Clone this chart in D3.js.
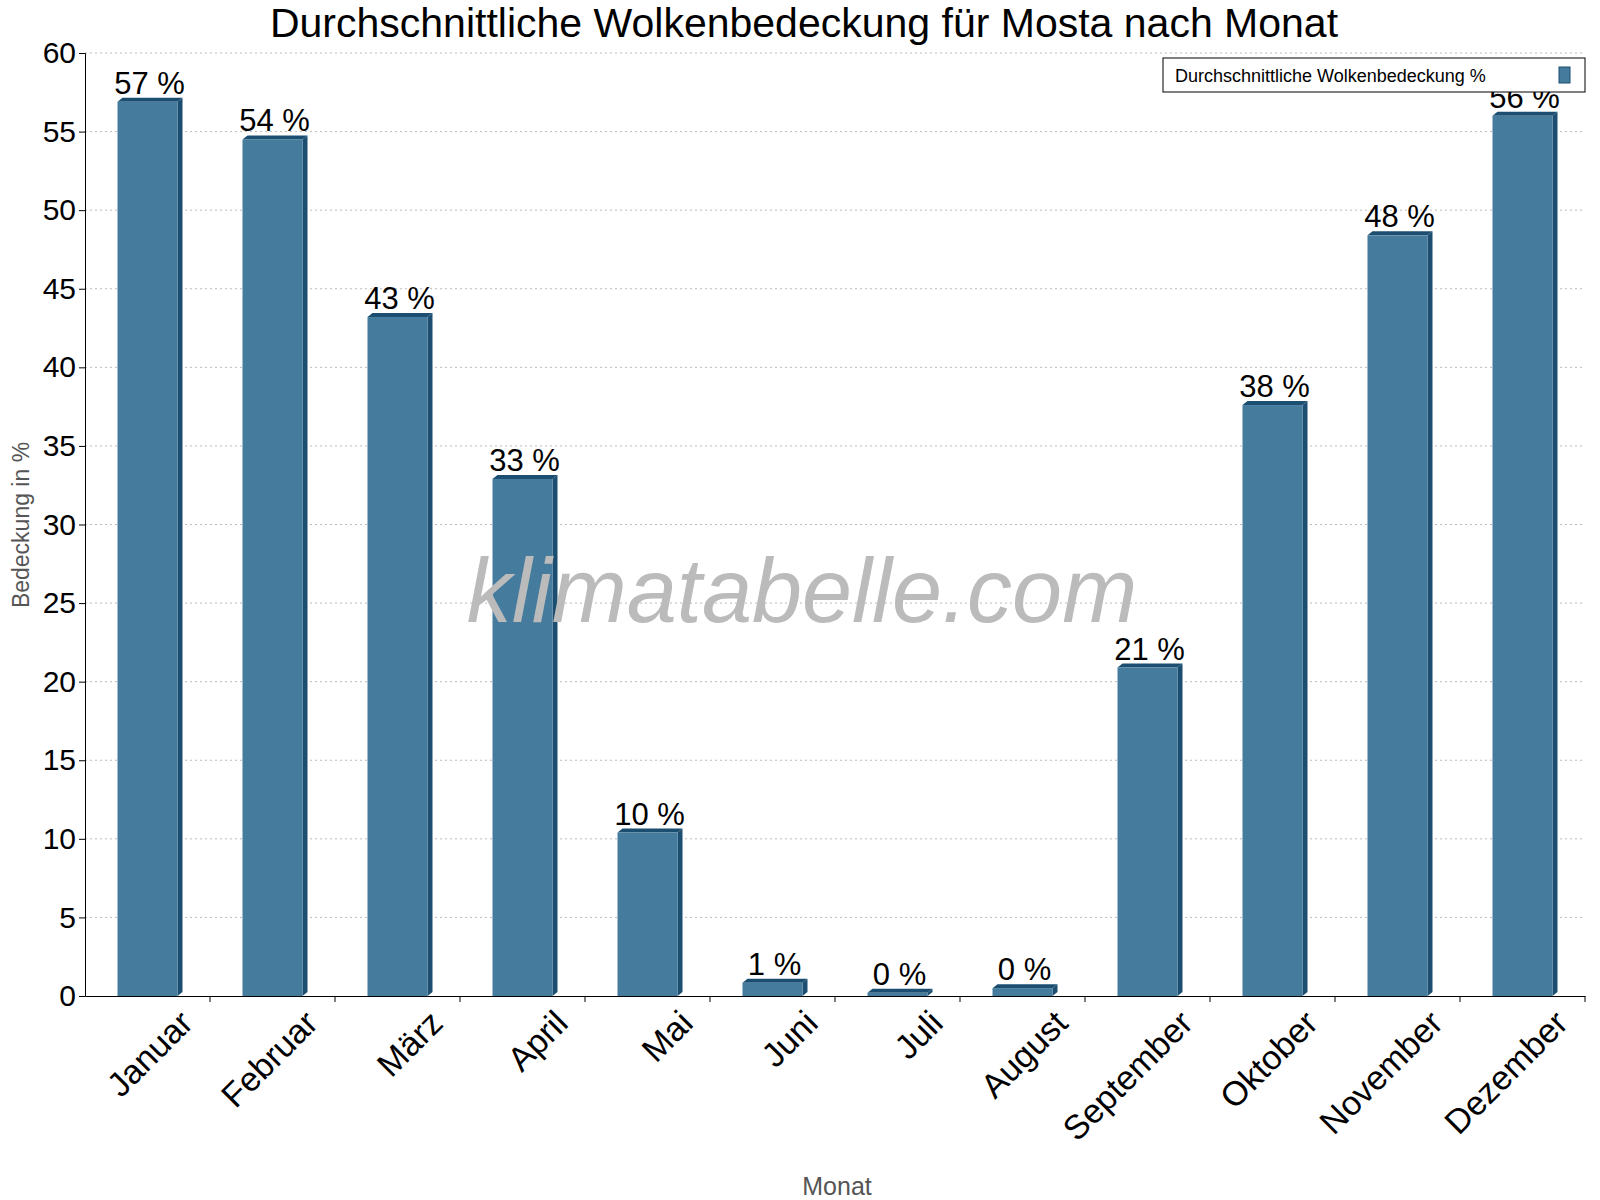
<!DOCTYPE html>
<html><head><meta charset="utf-8">
<script src="https://cdn.jsdelivr.net/npm/d3@7"></script>
<style>body{margin:0;background:#fff}text{font-family:Arial,"Liberation Sans",sans-serif}</style>
</head><body><div id="vis"></div>
<script>
var months = ["Januar","Februar","März","April","Mai","Juni","Juli","August","September","Oktober","November","Dezember"];
var cover = [56.9, 54.5, 43.2, 32.9, 10.4, 0.85, 0.2, 0.5, 20.9, 37.6, 48.4, 56.0];
var labels = ["57 %","54 %","43 %","33 %","10 %","1 %","0 %","0 %","21 %","38 %","48 %","56 %"];
var yTicks = d3.range(0, 61, 5);

var width = 1600, height = 1200;
var margin = {top: 53, left: 85, right: 15, bottom: 204};
var w = width - margin.left - margin.right;
var h = height - margin.top - margin.bottom;

var svg = d3.select("#vis").append("svg").attr("width", width).attr("height", height);
var g = svg.append("g").attr("transform", "translate(" + margin.left + "," + margin.top + ")");

var x = d3.scaleBand().domain(months).range([0, w]).paddingInner(0.52).paddingOuter(0.26);
var y = d3.scaleLinear().domain([0, 60]).range([h, 0]);

// grid
g.selectAll(".grid").data(yTicks.slice(1)).enter().append("line")
    .attr("x1", 0).attr("x2", w)
    .attr("y1", function (d) { return y(d); }).attr("y2", function (d) { return y(d); })
    .attr("stroke", "#bbb").attr("stroke-dasharray", "2,3");

var dx = 5, dy = 4;
var bars = g.selectAll(".bar").data(cover).enter().append("g");
bars.append("path").attr("fill", "#1b4e70").attr("d", function (d, i) {
    var x1 = x(months[i]) + x.bandwidth(), t = y(d);
    return "M" + x1 + "," + t + "L" + (x1 + dx) + "," + (t - dy) + "L" + (x1 + dx) + "," + (h - dy) + "L" + x1 + "," + h + "Z";
});
bars.append("path").attr("fill", "#1b4e70").attr("d", function (d, i) {
    var x0 = x(months[i]), x1 = x0 + x.bandwidth(), t = y(d);
    return "M" + x0 + "," + t + "L" + (x0 + dx) + "," + (t - dy) + "L" + (x1 + dx) + "," + (t - dy) + "L" + x1 + "," + t + "Z";
});
bars.append("rect").attr("fill", "#457b9d")
    .attr("x", function (d, i) { return x(months[i]); })
    .attr("y", function (d) { return y(d); })
    .attr("width", x.bandwidth())
    .attr("height", function (d) { return h - y(d); });

g.selectAll(".lbl").data(cover).enter().append("text")
    .attr("x", function (d, i) { return x(months[i]) + x.bandwidth() / 2 + 2; })
    .attr("y", function (d) { return y(d) - 8; })
    .attr("text-anchor", "middle").attr("font-size", 31)
    .text(function (d, i) { return labels[i]; });

// watermark
svg.append("text").attr("x", 802).attr("y", 622)
    .attr("text-anchor", "middle").attr("font-size", 90).attr("font-style", "italic")
    .attr("font-weight", 300).attr("font-family", "Roboto, Lato, Arial, sans-serif")
    .attr("fill", "#bbb").text("klimatabelle.com");

// axes
var ya = g.append("g").call(d3.axisLeft(y).tickValues(yTicks).tickSize(6));
ya.selectAll("text").attr("font-size", 30).attr("fill", "#000");
g.append("g").attr("transform", "translate(0," + h + ")")
    .call(d3.axisBottom(x).tickSize(0).tickFormat(""));
g.selectAll(".xt").data(months).enter().append("line")
    .attr("x1", function (d, i) { return (i + 1) * w / 12; })
    .attr("x2", function (d, i) { return (i + 1) * w / 12; })
    .attr("y1", h).attr("y2", h + 6).attr("stroke", "#000");
g.selectAll(".xl").data(months).enter().append("text")
    .attr("font-size", 34).attr("text-anchor", "end")
    .attr("transform", function (d) {
        return "translate(" + (x(d) + x.bandwidth() / 2 + 28) + "," + (h + 10) + ") rotate(-45)";
    })
    .attr("dy", "0.8em")
    .text(function (d) { return d; });

svg.append("text").attr("x", 804).attr("y", 37).attr("text-anchor", "middle")
    .attr("font-size", 41).text("Durchschnittliche Wolkenbedeckung für Mosta nach Monat");
svg.append("text").attr("x", 837).attr("y", 1195).attr("text-anchor", "middle")
    .attr("font-size", 25).attr("fill", "#555").text("Monat");
svg.append("text").attr("transform", "translate(29,525) rotate(-90)").attr("text-anchor", "middle")
    .attr("font-size", 23).attr("fill", "#555").text("Bedeckung in %");

// legend
var lg = svg.append("g").attr("transform", "translate(1163,58)");
lg.append("rect").attr("width", 422).attr("height", 34).attr("fill", "#fff").attr("stroke", "#000");
lg.append("text").attr("x", 12).attr("y", 24).attr("font-size", 18).text("Durchschnittliche Wolkenbedeckung %");
lg.append("rect").attr("x", 396).attr("y", 9).attr("width", 11).attr("height", 16)
    .attr("fill", "#457b9d").attr("stroke", "#1b4e70");
</script></body></html>
